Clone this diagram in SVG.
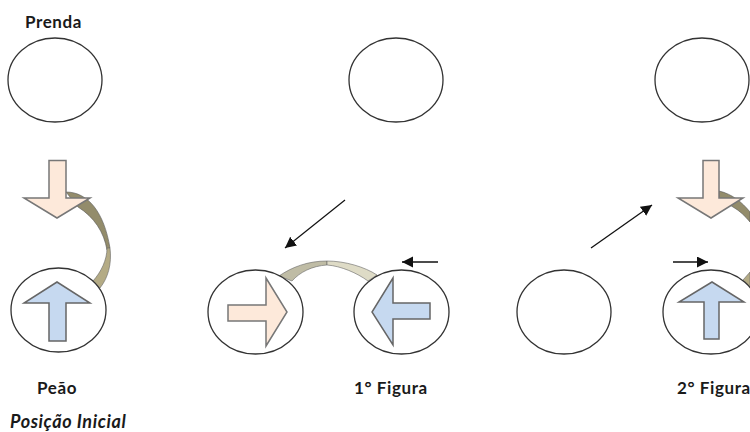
<svg xmlns="http://www.w3.org/2000/svg" width="750" height="432" viewBox="0 0 750 432">
<style>
.e{fill:#fff;stroke:#333;stroke-width:1.3}
.o{fill:#fde9da;stroke:#777;stroke-width:1.5}
.b{fill:#c6d9f0;stroke:#666;stroke-width:1.5}
.c1{fill:#b4ab85;stroke:#666;stroke-width:.6}
.c2{fill:#938c6b;stroke:#555;stroke-width:.6}
.c3{fill:#dedbc6;stroke:#666;stroke-width:.6}
.c4{fill:#bfbca5;stroke:#666;stroke-width:.6}
.a{stroke:#111;stroke-width:1.3;fill:none;marker-end:url(#h)}
text{font-family:Lato,"Open Sans","Liberation Sans",sans-serif;font-weight:700;font-size:17px;letter-spacing:.6px;fill:#1a1a1a}
.i{font-style:italic;font-size:18px}
</style>
<defs><marker id="h" markerUnits="userSpaceOnUse" markerWidth="12" markerHeight="12" refX="11" refY="5.500" orient="auto"><path d="M0 0L11 5.500L0 11Z" fill="#111"/></marker></defs>
<g id="connectors">
<path class="c2" d="M66 192C88 192 104 212 110 248L107 250C104 232 94 217 78 207Z"/>
<path class="c1" d="M107 248C107 260 101 272 93 281L100 288C108 278 112 264 110 248Z"/>
<path class="c4" d="M279 276C292 267 308 261 327 261V265C312 266 300 272 292 281Z"/>
<path class="c3" d="M327 261C345 261 365 267 377 275L368 281C357 273 341 266 327 265Z"/>
<path class="c2" d="M719 191C732 194 742 202 750 212V222C745 216 740 211 733 207L719 198Z"/>
<path class="c1" d="M743 280L750 272V287Z"/>
<path class="a" d="M345 200L285 248"/>
<path class="a" d="M438 262H402"/>
<path class="a" d="M591 248L652 205"/>
<path class="a" d="M673 262H708"/>
</g>
<g id="prenda-1"><ellipse class="e" cx="55" cy="80" rx="47" ry="42"/></g>
<g id="prenda-2"><ellipse class="e" cx="396" cy="80" rx="47" ry="42"/></g>
<g id="prenda-3"><ellipse class="e" cx="702" cy="80" rx="47" ry="42"/></g>
<g id="seta-prenda-1"><path class="o" d="M49 160.500H66V198H90L57 218L24 198H49Z"/></g>
<g id="seta-prenda-3"><path class="o" d="M703 160.500H719V198H743L711 218L678 198H703Z"/></g>
<g id="peao-1"><ellipse class="e" cx="58.500" cy="310" rx="47.500" ry="42"/><path class="b" d="M49 341H66V303H90L57 282L24 303H49Z"/></g>
<g id="peao-2"><ellipse class="e" cx="255.500" cy="312" rx="47.500" ry="42"/><path class="o" d="M228 305H266V278L287 312L266 346V321H228Z"/></g>
<g id="peao-3"><ellipse class="e" cx="401.500" cy="312" rx="47.500" ry="42"/><path class="b" d="M430 303H393V278L372 312L393 345V319H430Z"/></g>
<g id="vazio"><ellipse class="e" cx="564" cy="312" rx="47" ry="42"/></g>
<g id="peao-4"><ellipse class="e" cx="711" cy="312" rx="48" ry="42"/><path class="b" d="M704 339H719V302H744L712 282L679 302H704Z"/></g>
<text x="25" y="28">Prenda</text>
<text x="37" y="394">Peão</text>
<text x="354" y="394">1° Figura</text>
<text x="677" y="394">2° Figura</text>
<text class="i" x="10" y="428">Posição Inicial</text>
</svg>
